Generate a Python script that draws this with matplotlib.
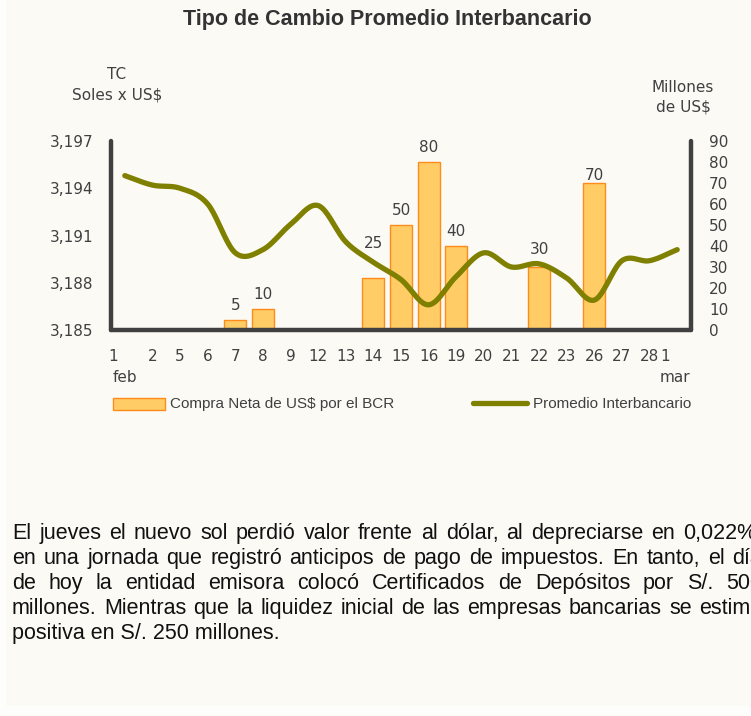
import numpy as np
import matplotlib
matplotlib.use("Agg")
import matplotlib.pyplot as plt
from matplotlib.patches import Rectangle
from matplotlib.lines import Line2D
import matplotlib.transforms as mtransforms

plt.rcParams["font.family"] = ["DejaVu Sans"]

# ---------------- data ----------------
days = ["1", "2", "5", "6", "7", "8", "9", "12", "13", "14", "15", "16",
        "19", "20", "21", "22", "23", "26", "27", "28", "1"]
compra_bcr = [0, 0, 0, 0, 5, 10, 0, 0, 0, 25, 50, 80, 40, 0, 0, 30, 0, 70, 0, 0, 0]
tipo_cambio = [3.1948, 3.1942, 3.1940, 3.1930, 3.1899, 3.1901, 3.1917, 3.1929,
               3.1906, 3.1893, 3.1882, 3.1866, 3.1884, 3.1899, 3.1890, 3.1892,
               3.1883, 3.1869, 3.1894, 3.1894, 3.1901]
left_ticks = [3.185, 3.188, 3.191, 3.194, 3.197]
right_ticks = list(range(0, 91, 10))
title = "Tipo de Cambio Promedio Interbancario"
paragraph_lines = [
    "El jueves el nuevo sol perdió valor frente al dólar, al depreciarse en 0,022%,",
    "en una jornada que registró anticipos de pago de impuestos. En tanto, el día",
    "de hoy la entidad emisora colocó Certificados de Depósitos por S/. 500",
    "millones. Mientras que la liquidez inicial de las empresas bancarias se estimó",
    "positiva en S/. 250 millones.",
]

# ---------------- style ----------------
BG = "#FBFAF5"
AX_COL = "#404040"
TXT_COL = "#404040"
BAR_FACE = "#FFCC66"
BAR_EDGE = "#FF8C1A"
LINE_COL = "#7F7F00"
# vertical gap (points) between bar top and its value label, per bar index
label_gap = {9: 19, 15: 7, 17: 0}

W, H = 751, 716
fig = plt.figure(figsize=(W / 100, H / 100), dpi=100, facecolor=BG)

def fx(px):
    return px / W

def fy(py):
    return 1 - py / H

# faint lighter frame strips at the left and bottom edges
fig.add_artist(Rectangle((0, 0), fx(6), 1, facecolor="#FDFDFB", edgecolor="none",
                         transform=fig.transFigure, zorder=0))
fig.add_artist(Rectangle((0, 0), 1, fy(706), facecolor="#FDFDFB", edgecolor="none",
                         transform=fig.transFigure, zorder=0))

ax = fig.add_axes([fx(111), fy(330), fx(691) - fx(111), fy(141) - fy(330)])
ax2 = ax.twinx()
ax.set_zorder(ax2.get_zorder() + 1)
ax.patch.set_visible(False)
ax2.patch.set_visible(False)

x = np.arange(len(days))

# bars (right axis)
ax2.bar(x, compra_bcr, width=0.8, color=BAR_FACE, edgecolor=BAR_EDGE, linewidth=1.0)
for xi, v in zip(x, compra_bcr):
    if v > 0:
        ax2.annotate(f"{v}", (xi, v), xytext=(0, label_gap.get(xi, 5)), textcoords="offset points",
                     ha="center", va="bottom", fontsize=11, color=TXT_COL)
ax2.set_ylim(0, 90)
ax2.set_yticks(right_ticks)
ax2.set_yticklabels([str(t) for t in right_ticks])

# smoothed line (Catmull-Rom rendering through the data points, like Excel's smoothed line)
xs = np.asarray(x, float)
ys = np.asarray(tipo_cambio, float)
px_ = np.concatenate([[2 * xs[0] - xs[1]], xs, [2 * xs[-1] - xs[-2]]])
py_ = np.concatenate([[2 * ys[0] - ys[1]], ys, [2 * ys[-1] - ys[-2]]])
cx, cy = [], []
t = np.linspace(0, 1, 20, endpoint=False)
for i in range(1, len(px_) - 2):
    for arr, a in ((cx, px_), (cy, py_)):
        a0, a1, a2, a3 = a[i - 1], a[i], a[i + 1], a[i + 2]
        arr.extend(0.5 * ((2 * a1) + (-a0 + a2) * t + (2 * a0 - 5 * a1 + 4 * a2 - a3) * t ** 2
                          + (-a0 + 3 * a1 - 3 * a2 + a3) * t ** 3))
cx.append(xs[-1]); cy.append(ys[-1])
ax.plot(cx, cy, color=LINE_COL, linewidth=3.8, solid_capstyle="round", zorder=3)

ax.set_ylim(3.185, 3.197)
ax.set_yticks(left_ticks)
ax.set_yticklabels([f"{v:.3f}".replace(".", ",") for v in left_ticks])
ax.set_xlim(-0.5, len(days) - 0.5)
ax2.set_xlim(-0.5, len(days) - 0.5)
ax.set_xticks(x)
ax.set_xticklabels(days)

for a in (ax, ax2):
    a.tick_params(length=0, colors=TXT_COL, labelsize=11)
    for s in a.spines.values():
        s.set_visible(False)
ax.tick_params(axis="y", pad=13)
ax2.tick_params(axis="y", pad=13)
ax.tick_params(axis="x", pad=14)

# shift first and last x labels left
for i in (0, len(days) - 1):
    lab = ax.get_xticklabels()[i]
    lab.set_transform(lab.get_transform() + mtransforms.ScaledTranslation(-12 / 100, 0, fig.dpi_scale_trans))

# thick axis lines
for (x0, y0, x1, y1) in [(111, 141, 111, 330), (111, 330, 691, 330), (691, 141, 691, 330)]:
    fig.add_artist(Line2D([fx(x0), fx(x1)], [fy(y0), fy(y1)], color=AX_COL, linewidth=3.2,
                          solid_capstyle="round", transform=fig.transFigure, zorder=5))

# axis titles
fig.text(fx(117), fy(85), "TC\nSoles x US$", ha="center", va="center", fontsize=11,
         color=TXT_COL, linespacing=1.5)
fig.text(fx(683), fy(97), "Millones\nde US$", ha="center", va="center", fontsize=11,
         color=TXT_COL, linespacing=1.35)
fig.text(fx(113), fy(378), "feb", ha="left", va="center", fontsize=11, color=TXT_COL)
fig.text(fx(690), fy(378), "mar", ha="right", va="center", fontsize=11, color=TXT_COL)

# title
fig.text(fx(387), fy(20), title, ha="center", va="center", fontsize=15.5, fontweight="bold",
         color="#333333", family="Liberation Sans")

# legend
leg_kw = dict(fontsize=11, color="#404040", va="center", ha="left", family="Liberation Sans")
fig.add_artist(Rectangle((fx(113), fy(410)), fx(165) - fx(113), fy(398) - fy(410),
                         facecolor=BAR_FACE, edgecolor=BAR_EDGE, linewidth=1.0,
                         transform=fig.transFigure))
fig.text(fx(170), fy(404), "Compra Neta de US$ por el BCR", **leg_kw)
fig.add_artist(Line2D([fx(473), fx(527)], [fy(403), fy(403)], color=LINE_COL, linewidth=3.8,
                      solid_capstyle="round", transform=fig.transFigure))
fig.text(fx(533), fy(404), "Promedio Interbancario", **leg_kw)

# justified paragraph (runs past the right edge, as in the reference)
renderer = fig.canvas.get_renderer()
para_kw = dict(fontsize=15.5, family="Liberation Sans", color="#111111", va="baseline", ha="left")
left_px, right_px = 12, 762
baselines = [539, 564, 589, 614, 639]
for li, (line, by) in enumerate(zip(paragraph_lines, baselines)):
    words = line.split(" ")
    if li == len(paragraph_lines) - 1:
        fig.text(fx(left_px), fy(by), line, **para_kw)
        continue
    texts = [fig.text(0, 0, w, **para_kw) for w in words]
    widths = [t_.get_window_extent(renderer).width for t_ in texts]
    gap = (right_px - left_px - sum(widths)) / (len(words) - 1)
    cur = left_px
    for t_, wd in zip(texts, widths):
        t_.set_position((fx(cur), fy(by)))
        cur += wd + gap

fig.savefig("out.png", dpi=100, facecolor=BG)
